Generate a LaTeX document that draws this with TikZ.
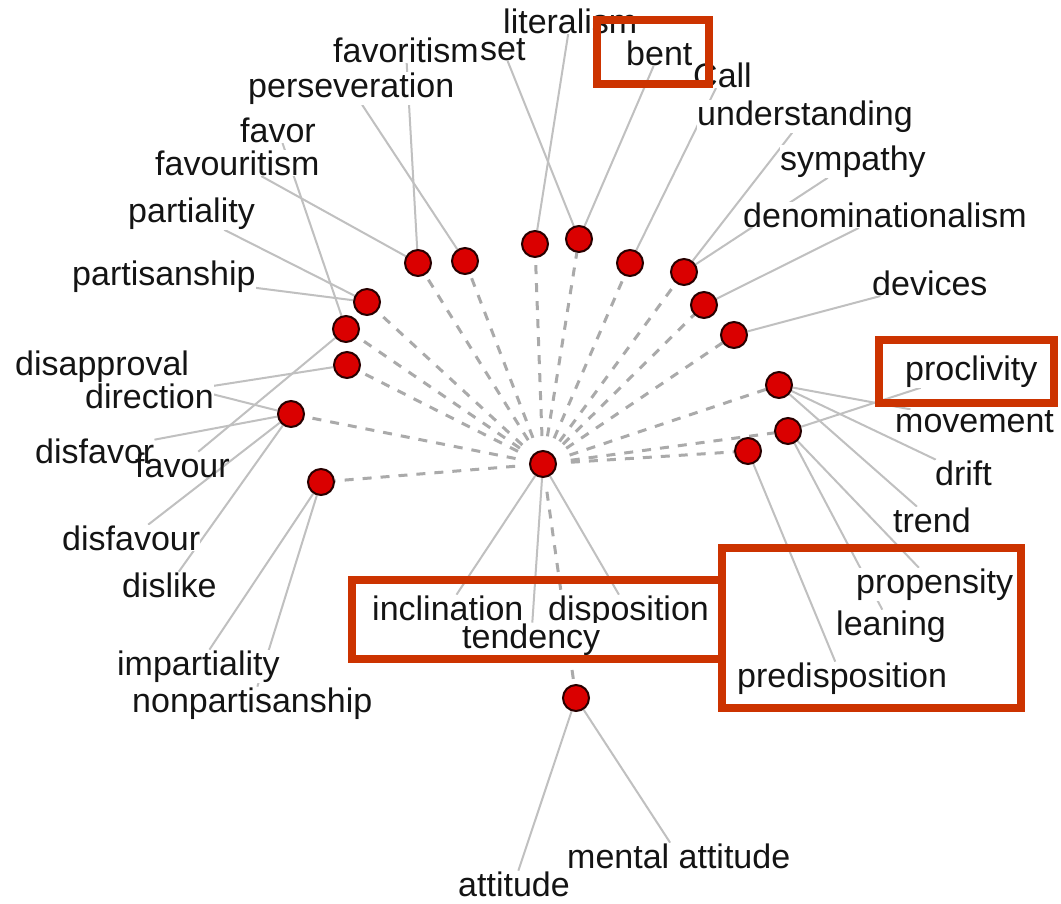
\documentclass[tikz,border=0pt]{standalone}
\usepackage{fontspec}
\newfontfamily\lblfont{Liberation Sans}
\pgfdeclarelayer{back}
\pgfsetlayers{back,main}
\definecolor{dotred}{RGB}{218,0,0}
\definecolor{dotrim}{RGB}{40,0,0}
\definecolor{boxred}{RGB}{204,51,0}
\definecolor{linegray}{RGB}{192,192,192}
\definecolor{dashgray}{RGB}{170,170,170}
\definecolor{ink}{RGB}{20,20,20}
\tikzset{
  word/.style={font=\lblfont\fontsize{34}{40}\selectfont, text=ink, anchor=base west,
               inner xsep=0pt, inner ysep=0.5pt, fill=white},
  bareword/.style={word, fill=none},
  dot/.style={circle, fill=dotred, draw=dotrim, line width=2pt, minimum size=26pt, inner sep=0pt},
  link/.style={draw=linegray, line width=2pt},
  spoke/.style={draw=dashgray, line width=3pt, dash pattern=on 9pt off 9pt, shorten <=14pt},
  hilite/.style={draw=boxred, line width=8pt}
}
\begin{document}
\begin{tikzpicture}[x=1pt,y=-1pt]
\begin{pgfonlayer}{back}
  \fill[white] (0,0) rectangle (1061,903);
\end{pgfonlayer}
\useasboundingbox (0,0) rectangle (1061,903);

% hub and term nodes
\node[dot] (c)   at (543,464) {};
\node[dot] (d1)  at (418,263) {};
\node[dot] (d2)  at (465,261) {};
\node[dot] (d3)  at (535,244) {};
\node[dot] (d4)  at (579,239) {};
\node[dot] (d5)  at (630,263) {};
\node[dot] (d6)  at (684,272) {};
\node[dot] (d7)  at (704,305) {};
\node[dot] (d8)  at (734,335) {};
\node[dot] (d9)  at (779,385) {};
\node[dot] (d10) at (788,431) {};
\node[dot] (d11) at (748,451) {};
\node[dot] (d12) at (367,302) {};
\node[dot] (d13) at (346,329) {};
\node[dot] (d14) at (347,365) {};
\node[dot] (d15) at (291,414) {};
\node[dot] (d16) at (321,482) {};
\node[dot] (d17) at (576,698) {};

% word labels
\node[word] (lit) at (503,33)  {literalism};
\node[word] (fvm) at (333,62)  {favoritism};
\node[word] (set) at (480,60)  {set};
\node[word] (per) at (248,97)  {perseveration};
\node[word] (bnt) at (626,65)  {bent};
\node[word] (cal) at (693,87)  {Call};
\node[word] (und) at (697,125) {understanding};
\node[word] (sym) at (780,170) {sympathy};
\node[word] (den) at (743,227) {denominationalism};
\node[word] (dev) at (872,295) {devices};
\node[word] (pro) at (905,380) {proclivity};
\node[word] (mov) at (895,432) {movement};
\node[word] (dri) at (935,485) {drift};
\node[word] (tre) at (893,532) {trend};
\node[word] (prp) at (856,593) {propensity};
\node[word] (lea) at (836,635) {leaning};
\node[word] (pre) at (737,687) {predisposition};
\node[word] (dsp) at (548,620) {disposition};
\node[word] (ten) at (462,648) {tendency};
\node[word] (inc) at (372,620) {inclination};
\node[word] (men) at (567,868) {mental attitude};
\node[word] (att) at (458,896) {attitude};
\node[word] (imp) at (117,675) {impartiality};
\node[word] (non) at (132,712) {nonpartisanship};
\node[word] (dsl) at (122,597) {dislike};
\node[word] (dfu) at (62,550)  {disfavour};
\node[word] (dfa) at (35,463)  {disfavor};
\node[bareword] (fau) at (135,477) {favour};
\node[word] (dap) at (15,375)  {disapproval};
\node[word] (dir) at (85,408)  {direction};
\node[word] (psh) at (72,285)  {partisanship};
\node[word] (pty) at (128,222) {partiality};
\node[word] (fsm) at (155,175) {favouritism};
\node[word] (fvr) at (240,142) {favor};

% connectors, kept beneath the labels
\begin{pgfonlayer}{back}
  \foreach \n in {d1,d2,d3,d4,d5,d6,d7,d8,d9,d10,d11,d12,d13,d14,d15,d16,d17}
    \draw[spoke] (c) -- (\n);
  \foreach \a/\b in {d1/fvm, d1/fsm, d2/per, d3/lit, d4/set, d4/bnt, d5/cal,
                     d6/und, d6/sym, d7/den, d8/dev, d9/mov, d9/dri, d9/tre,
                     d10/pro, d10/prp, d10/lea, d11/pre, d12/pty, d12/psh,
                     d13/fvr, d13/fau, d14/dir, d15/dap, d15/dfa, d15/dfu, d15/dsl,
                     d16/imp, d16/non, c/inc, c/ten, c/dsp, d17/att, d17/men}
    \draw[link] (\a) -- (\b);
\end{pgfonlayer}

% highlight frames
\draw[hilite] (597,20) rectangle (709,84);
\draw[hilite] (879,340) rectangle (1054,403);
\draw[hilite] (352,580) rectangle (722,659);
\draw[hilite] (722,548) rectangle (1021,708);
\end{tikzpicture}
\end{document}
